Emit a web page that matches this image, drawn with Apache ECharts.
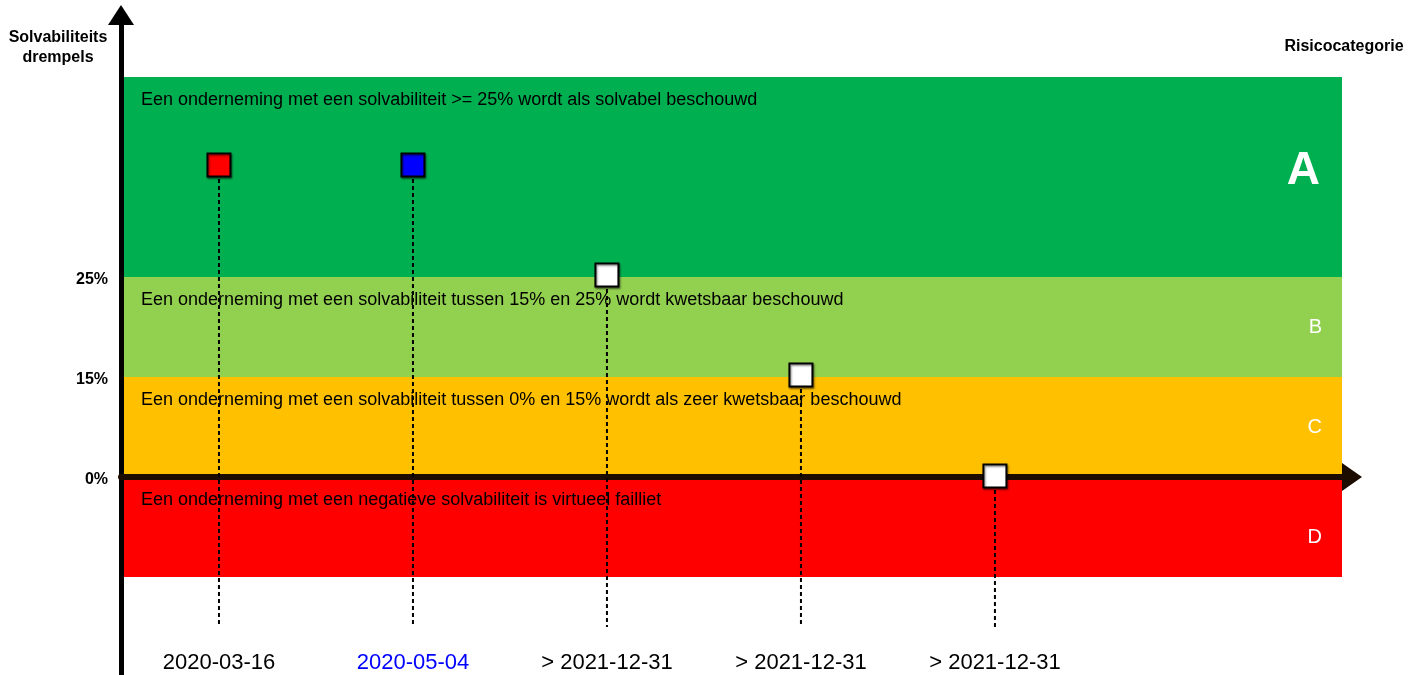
<!DOCTYPE html>
<html><head><meta charset="utf-8">
<script src="https://cdn.jsdelivr.net/npm/echarts@6/dist/echarts.min.js"></script>
<style>html,body{margin:0;padding:0;background:#fff}#c{width:1419px;height:675px}</style>
</head><body><div id="c"></div>
<script>
// ---- data ----
const dateLabels = ['2020-03-16', '2020-05-04', '> 2021-12-31', '> 2021-12-31', '> 2021-12-31'];
const positions = [1, 2, 3, 4, 5];
const levels = [3.12, 3.12, 2.02, 1.02, 0.01];
const markerColors = ['#FF0000', '#0000FF', '#FFFFFF', '#FFFFFF', '#FFFFFF'];
const labelColors = ['#000000', '#0000FF', '#000000', '#000000', '#000000'];
const thresholdValues = [0, 1, 2];
const thresholdLabels = ['0%', '15%', '25%'];
const bandNames = ['A', 'B', 'C', 'D'];
const bandFrom = [2, 1, 0, -1];
const bandTo = [4, 2, 1, 0];
const bandColors = ['#00B050', '#92D050', '#FFC000', '#FF0000'];
const bandTexts = [
  'Een onderneming met een solvabiliteit >= 25% wordt als solvabel beschouwd',
  'Een onderneming met een solvabiliteit tussen 15% en 25% wordt kwetsbaar beschouwd',
  'Een onderneming met een solvabiliteit tussen 0% en 15% wordt als zeer kwetsbaar beschouwd',
  'Een onderneming met een negatieve solvabiliteit is virtueel failliet'
];
const dropTo = -1.5;
const dateLabelLevel = -1.86;

const FONT = 'Liberation Sans, Arial, sans-serif';
const chart = echarts.init(document.getElementById('c'), null, {renderer: 'canvas'});

const letterStyle = [
  {fontSize: 46, fontWeight: 'bold', offset: [0, -6], distance: 22},
  {fontSize: 20, fontWeight: 'normal', offset: [0, 0], distance: 20},
  {fontSize: 20, fontWeight: 'normal', offset: [0, 0], distance: 20},
  {fontSize: 20, fontWeight: 'normal', offset: [0, 10], distance: 20}
];

const bandAreas = bandNames.map((n, i) => [
  {
    xAxis: 'min', yAxis: bandFrom[i],
    itemStyle: {color: bandColors[i]},
    label: {show: true, position: [20, 14], formatter: bandTexts[i], color: '#000', fontSize: 18, fontFamily: FONT}
  },
  {xAxis: 'max', yAxis: bandTo[i]}
]);
const letterAreas = bandNames.map((n, i) => [
  {
    xAxis: 'min', yAxis: bandFrom[i],
    itemStyle: {color: 'rgba(0,0,0,0)'},
    label: {show: true, position: 'insideRight', distance: letterStyle[i].distance, offset: letterStyle[i].offset,
      formatter: n, color: '#fff', fontSize: letterStyle[i].fontSize, fontWeight: letterStyle[i].fontWeight, fontFamily: FONT}
  },
  {xAxis: 'max', yAxis: bandTo[i]}
]);

const option = {
  animation: false,
  backgroundColor: '#fff',
  grid: {left: 121, right: 77, top: 25, bottom: 0, containLabel: false},
  xAxis: {
    type: 'value', min: 0.495, max: 6.789, z: 10,
    axisLine: {show: true, onZero: true, symbol: ['none', 'triangle'], symbolSize: [28, 20], symbolOffset: [0, 10],
      lineStyle: {color: '#1c0c00', width: 6}},
    axisTick: {show: false}, axisLabel: {show: false}, splitLine: {show: false}
  },
  yAxis: {
    type: 'value', min: -1.98, max: 4.52, z: 10,
    axisLine: {show: true, onZero: false, symbol: ['none', 'triangle'], symbolSize: [26, 20], symbolOffset: [0, 10],
      lineStyle: {color: '#000', width: 5}},
    axisTick: {show: false},
    splitLine: {show: false},
    axisLabel: {
      show: true, customValues: thresholdValues, margin: 13,
      formatter: v => { const k = thresholdValues.indexOf(Math.round(v * 100) / 100); return k >= 0 ? '{t|' + thresholdLabels[k] + '}' : ''; },
      rich: {t: {color: '#000', fontSize: 16, fontWeight: 'bold', fontFamily: FONT, padding: [6, 0, 0, 0]}},
      color: '#000', fontSize: 16, fontWeight: 'bold', fontFamily: FONT
    }
  },
  graphic: [
    {type: 'text', x: 58, y: 48, z: 100, style: {text: 'Solvabiliteits\ndrempels', textAlign: 'center', textVerticalAlign: 'middle', font: 'bold 16px ' + FONT, lineHeight: 20, fill: '#000'}},
    {type: 'text', x: 1344, y: 47, z: 100, style: {text: 'Risicocategorie', textAlign: 'center', textVerticalAlign: 'middle', font: 'bold 16px ' + FONT, fill: '#000'}}
  ],
  series: [
    {
      type: 'line', data: [], silent: true, z: 1,
      markArea: {silent: true, data: bandAreas}
    },
    {
      type: 'line', data: [], silent: true, z: 3,
      markArea: {silent: true, data: letterAreas}
    },
    {
      type: 'custom', z: 20, clip: false,
      data: positions.map((p, i) => [p, levels[i]]),
      renderItem: function (params, api) {
        const i = params.dataIndex;
        const x = api.value(0), y = api.value(1);
        const p = api.coord([x, y]);
        const b = api.coord([x, dropTo]);
        const t = api.coord([x, dateLabelLevel]);
        const s = 23;
        return {
          type: 'group',
          children: [
            {type: 'line', shape: {x1: p[0], y1: p[1], x2: b[0], y2: b[1]}, style: {stroke: '#000', lineWidth: 2, lineDash: [4, 3]}},
            {type: 'rect', shape: {x: p[0] - s / 2, y: p[1] - s / 2, width: s, height: s},
              style: {fill: markerColors[i], stroke: '#000', lineWidth: 2, shadowBlur: 2, shadowOffsetY: 1.5, shadowOffsetX: 1, shadowColor: 'rgba(0,0,0,0.45)'}},
            {type: 'text', x: t[0], y: t[1], style: {text: dateLabels[i], fill: labelColors[i], textAlign: 'center', textVerticalAlign: 'middle', font: '22px ' + FONT}}
          ]
        };
      }
    }
  ]
};
chart.setOption(option);
</script>
</body></html>
